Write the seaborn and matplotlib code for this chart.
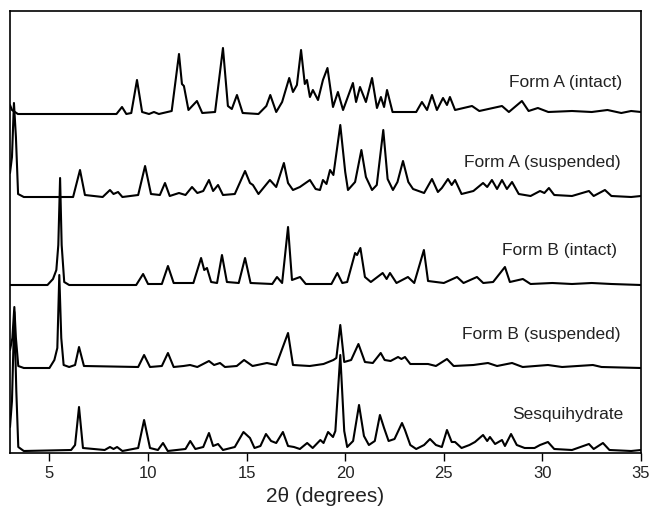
import numpy as np
import pandas as pd
import matplotlib
matplotlib.use("Agg")
import matplotlib.pyplot as plt
import seaborn as sns

# ---- data: (2theta, relative intensity above own baseline) ----
formA_intact_x = [3.00, 3.10, 3.40, 8.40, 8.68, 8.90, 9.15, 9.44, 9.70, 10.05, 10.30, 10.55, 11.20, 11.57, 11.72, 11.82, 12.05, 12.48, 12.75, 13.40, 13.80, 14.05, 14.25, 14.51, 14.80, 15.60, 16.00, 16.20, 16.50, 16.80, 17.16, 17.35, 17.55, 17.76, 17.95, 18.06, 18.21, 18.36, 18.62, 18.87, 19.10, 19.38, 19.63, 19.89, 20.39, 20.55, 20.75, 21.05, 21.36, 21.61, 21.81, 21.97, 22.12, 22.40, 23.60, 23.89, 24.15, 24.40, 24.65, 24.96, 25.16, 25.31, 25.57, 26.43, 26.80, 27.95, 28.30, 28.96, 29.30, 29.77, 30.30, 31.50, 32.50, 33.30, 34.00, 34.50, 35.00]
formA_intact_y = [9, 4, 0, 0, 7, 0, 1, 34, 2, 0, 2, 0, 3, 60, 30, 28, 4, 13, 1, 2, 66, 8, 5, 19, 1, 0, 8, 19, 2, 12, 36, 22, 29, 64, 30, 34, 17, 24, 14, 34, 46, 7, 22, 4, 31, 12, 27, 12, 36, 6, 17, 7, 24, 2, 2, 12, 4, 19, 4, 16, 9, 17, 4, 8, 3, 8, 2, 13, 3, 6, 2, 3, 2, 4, 1, 3, 2]

formA_susp_x = [3.00, 3.10, 3.20, 3.30, 3.41, 3.70, 6.20, 6.55, 6.80, 7.70, 8.07, 8.25, 8.48, 8.70, 9.50, 9.85, 10.15, 10.60, 10.86, 11.10, 11.57, 11.90, 12.23, 12.50, 12.80, 13.09, 13.30, 13.55, 13.80, 14.40, 14.92, 15.17, 15.32, 15.60, 16.18, 16.50, 16.89, 17.10, 17.35, 17.70, 18.21, 18.50, 18.72, 18.87, 19.05, 19.23, 19.40, 19.75, 20.00, 20.14, 20.50, 20.82, 21.05, 21.36, 21.60, 21.93, 22.15, 22.42, 22.65, 22.93, 23.20, 23.44, 24.00, 24.40, 24.70, 24.90, 25.21, 25.40, 25.57, 25.90, 26.50, 26.99, 27.20, 27.44, 27.70, 27.95, 28.20, 28.46, 28.80, 29.40, 29.88, 30.10, 30.33, 30.60, 31.50, 32.36, 32.60, 33.17, 33.50, 34.50, 35.00]
formA_susp_y = [24, 40, 94, 60, 3, 0, 0, 27, 2, 0, 7, 3, 5, 0, 2, 31, 3, 2, 14, 1, 4, 2, 10, 4, 6, 17, 6, 12, 2, 3, 26, 14, 12, 3, 17, 10, 34, 14, 7, 10, 17, 8, 7, 17, 13, 27, 22, 72, 25, 7, 15, 47, 20, 7, 12, 67, 18, 7, 15, 36, 15, 8, 4, 18, 5, 9, 18, 12, 17, 3, 6, 14, 10, 17, 8, 17, 8, 15, 3, 1, 6, 4, 9, 2, 1, 6, 1, 7, 1, 0, 1]

formB_intact_x = [3.00, 4.90, 5.18, 5.35, 5.45, 5.54, 5.62, 5.75, 6.00, 9.40, 9.75, 10.00, 10.70, 11.01, 11.30, 12.30, 12.69, 12.85, 12.99, 13.20, 13.50, 13.75, 14.00, 14.60, 14.92, 15.20, 16.30, 16.54, 16.80, 17.10, 17.30, 17.71, 18.00, 19.30, 19.60, 19.85, 20.10, 20.50, 20.60, 20.77, 21.00, 21.30, 21.90, 22.10, 22.27, 22.60, 23.18, 23.50, 23.99, 24.20, 25.00, 25.67, 26.00, 26.68, 27.00, 27.50, 28.10, 28.35, 29.01, 29.40, 30.50, 31.50, 32.50, 33.50, 35.00]
formB_intact_y = [0, 0, 6, 15, 40, 107, 40, 3, 0, 0, 11, 1, 1, 19, 2, 2, 27, 15, 17, 3, 2, 30, 3, 2, 27, 2, 1, 8, 2, 58, 5, 8, 1, 1, 12, 2, 3, 32, 30, 37, 8, 3, 12, 6, 12, 2, 8, 2, 35, 4, 2, 8, 2, 8, 2, 3, 18, 3, 6, 1, 2, 1, 2, 1, 0]

formB_susp_x = [3.00, 3.12, 3.22, 3.30, 3.42, 3.70, 5.00, 5.25, 5.40, 5.50, 5.60, 5.72, 6.00, 6.30, 6.50, 6.75, 9.50, 9.80, 10.10, 10.70, 11.01, 11.30, 11.80, 12.13, 12.50, 13.09, 13.35, 13.65, 13.90, 14.50, 14.87, 15.30, 16.03, 16.50, 17.10, 17.35, 18.20, 18.90, 19.40, 19.55, 19.75, 19.95, 20.30, 20.67, 21.00, 21.40, 21.80, 22.00, 22.30, 22.68, 22.85, 23.03, 23.30, 24.20, 24.60, 25.16, 25.50, 26.50, 27.24, 27.70, 28.46, 29.00, 30.28, 31.00, 32.56, 33.00, 35.00]
formB_susp_y = [18, 30, 61, 30, 2, 0, 0, 8, 20, 93, 30, 3, 1, 3, 21, 2, 1, 13, 1, 2, 15, 1, 2, 3, 1, 7, 3, 5, 1, 2, 8, 2, 5, 3, 35, 3, 2, 4, 8, 10, 43, 6, 8, 24, 6, 5, 15, 8, 7, 11, 9, 11, 4, 4, 2, 9, 2, 3, 5, 2, 5, 1, 3, 1, 3, 1, 0]

sesqui_x = [3.00, 3.10, 3.22, 3.32, 3.42, 3.70, 6.10, 6.30, 6.50, 6.70, 7.80, 8.07, 8.25, 8.43, 8.70, 9.50, 9.80, 10.10, 10.50, 10.76, 11.00, 11.90, 12.14, 12.40, 12.80, 13.09, 13.30, 13.55, 13.80, 14.40, 14.84, 15.17, 15.40, 15.70, 15.98, 16.24, 16.50, 16.84, 17.10, 17.40, 17.70, 18.07, 18.35, 18.74, 18.90, 19.13, 19.38, 19.50, 19.75, 19.95, 20.10, 20.40, 20.70, 20.95, 21.20, 21.50, 21.76, 21.97, 22.20, 22.50, 22.88, 23.03, 23.30, 23.60, 24.00, 24.30, 24.60, 24.90, 25.16, 25.40, 25.57, 25.90, 26.30, 26.58, 26.99, 27.20, 27.34, 27.60, 27.95, 28.10, 28.41, 28.70, 29.10, 29.60, 29.88, 30.28, 30.60, 31.50, 32.36, 32.60, 33.07, 33.40, 34.50, 35.00]
sesqui_y = [24, 50, 139, 60, 4, 0, 1, 6, 44, 3, 1, 4, 2, 4, 0, 3, 31, 3, 1, 8, 0, 2, 10, 2, 4, 18, 5, 7, 1, 4, 19, 13, 3, 5, 17, 10, 8, 19, 5, 4, 2, 8, 3, 11, 8, 19, 14, 20, 96, 20, 4, 10, 46, 15, 6, 10, 36, 23, 10, 12, 28, 21, 6, 2, 6, 12, 6, 4, 21, 9, 9, 3, 6, 9, 16, 10, 14, 7, 11, 5, 17, 6, 3, 3, 6, 9, 2, 1, 7, 2, 8, 1, 0, 1]

labels = ["Form A (intact)", "Form A (suspended)", "Form B (intact)", "Form B (suspended)", "Sesquihydrate"]
xticks = [5, 10, 15, 20, 25, 30, 35]

# ---- layout (vertical stacking offsets, label anchors) ----
offsets = [339, 256, 168, 85, 2]
label_pos = [(34.05, 370), (33.95, 291), (33.80, 202), (33.95, 118), (34.10, 38)]

series = [(formA_intact_x, formA_intact_y), (formA_susp_x, formA_susp_y),
          (formB_intact_x, formB_intact_y), (formB_susp_x, formB_susp_y),
          (sesqui_x, sesqui_y)]

frames = []
for name, (xs, ys), off in zip(labels, series, offsets):
    frames.append(pd.DataFrame({"two_theta": xs,
                                "intensity": np.array(ys, float) + off,
                                "sample": name}))
df = pd.concat(frames, ignore_index=True)

sns.set_style("white")
plt.rcParams["font.family"] = ["Liberation Sans", "DejaVu Sans"]

fig = plt.figure(figsize=(6.51, 5.15), dpi=100)
ax = fig.add_axes([10/651, 62/515, 631/651, 442/515])

sns.lineplot(data=df, x="two_theta", y="intensity", hue="sample",
             palette=["black"] * 5, estimator=None, sort=False,
             linewidth=1.5, legend=False, ax=ax)

for name, (lx, ly) in zip(labels, label_pos):
    ax.text(lx, ly, name, ha="right", va="center", fontsize=12.5, color="#222222")

ax.set_xlim(3.0, 35.0)
ax.set_ylim(0, 442)
ax.set_xticks(xticks)
ax.set_xticklabels([str(t) for t in xticks], fontsize=12, color="#222222")
ax.set_yticks([])
ax.set_ylabel("")
ax.set_xlabel("2θ (degrees)", fontsize=15, color="#222222", labelpad=5)
ax.tick_params(axis="x", direction="out", length=6, width=1, color="black", pad=3, bottom=True)
for s in ax.spines.values():
    s.set_visible(True)
    s.set_color("black")
    s.set_linewidth(1.2)

fig.savefig("out.png", dpi=100)
